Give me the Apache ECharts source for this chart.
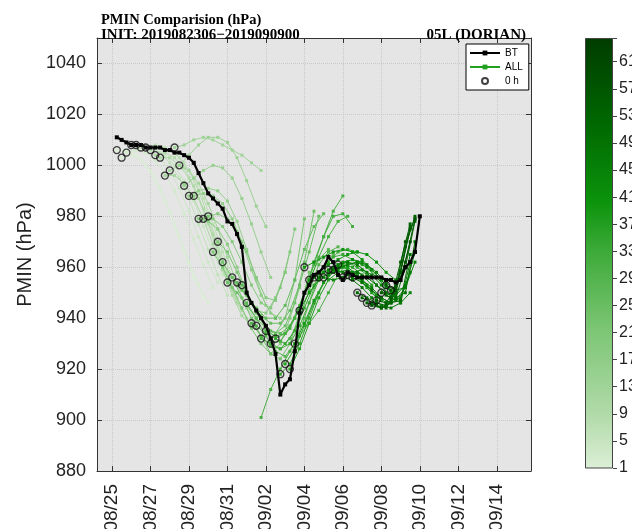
<!DOCTYPE html>
<html><head><meta charset="utf-8">
<script src="https://cdn.jsdelivr.net/npm/echarts@6/dist/echarts.min.js"></script>
<style>html,body{margin:0;padding:0;background:#fff;overflow:hidden}#c{width:632px;height:529px}</style>
</head><body><div id="c"></div>
<script>
// ---------- data ----------
// x axis: days counted from the "08/25" tick
const xTickValues = [0, 2, 4, 6, 8, 10, 12, 14, 16, 18, 20];
const xTickLabels = ['08/25','08/27','08/29','08/31','09/02','09/04','09/06','09/08','09/10','09/12','09/14'];
const yTicks = [880, 900, 920, 940, 960, 980, 1000, 1020, 1040];
const colorbarTicks = [1, 5, 9, 13, 17, 21, 25, 29, 33, 37, 41, 45, 49, 53, 57, 61];

// Best track (6-hourly, first point at day 0.25)
const btStartDay = 0.25;
const btStepDay = 0.25;
const btPmin = [1011,1010,1009,1008,1008,1008,1007,1007,1007,1007,1006,1006,1005,1005,1004,1003,
  1001,997,993,989,987,985,983,978,977,973,968,950,946,943,940,937,
  932,926,910,914,916,927,942,950,953,957,958,960,964,962,957,955,
  958,957,956,956,956,956,956,956,955,955,954,955,960,962,966,980];

// Forecasts (12-hourly values from each initial time)
const fcstStepDay = 0.5;
const fcstIndex = [1,2,3,4,5,6,7,8,9,10,11,12,13,14,15,16,17,18,19,20,21,22,23,24,25,26,27,28,29,
  30,31,32,33,34,35,36,37,38,39,40,41,42,43,44,45,46,47,48,49,50,51,52,53,54,55,56,57,58];
const fcstStartDay = [0.25,0.5,0.75,1.0,1.25,1.5,1.75,2.0,2.25,2.5,2.75,3.0,3.25,3.5,3.75,4.0,4.25,4.5,4.75,
  5.0,5.25,5.5,5.75,6.0,6.25,6.5,6.75,7.0,7.25,7.5,7.75,8.0,8.25,8.5,8.75,9.0,9.25,9.5,9.75,10.0,
  10.25,10.5,10.75,11.0,11.25,11.5,11.75,12.0,12.25,12.5,12.75,13.0,13.25,13.5,13.75,14.0,14.25,14.5];
const fcstPmin = [
  [1006,1006,1004,1000,994,986,976,966,956,948],
  [1003,1004,1002,998,991,982,972,962,953,946],
  [1005,1006,1005,1002,997,990,981,971,961,952],
  [1008,1008,1006,1003,998,991,982,972,962,954],
  [1008,1007,1006,1004,1000,994,986,976,966,957],
  [1007,1007,1005,1001,995,987,977,967,957,949],
  [1007,1008,1007,1005,1001,995,987,977,966,956],
  [1006,1007,1006,1003,998,990,980,969,958,948],
  [1004,1005,1003,999,992,983,973,962,951,943],
  [1003,1003,1000,995,987,977,966,955,946,940],
  [996,996,993,987,979,969,959,949,941,937],
  [998,1000,998,993,985,975,964,953,944,939],
  [1007,1008,1010,1011,1010,1008,1006,1004,1001,998],
  [1000,1004,1008,1011,1011,1009,1003,994,984,976],
  [992,995,998,1000,999,995,987,977,966,956],
  [988,990,991,990,986,978,967,955,945,940],
  [988,989,988,985,979,970,959,949,942,940],
  [979,978,975,969,960,950,943,942,948,958],
  [979,979,976,970,962,953,946,944,952,966],
  [980,981,979,974,966,956,948,947,958,975],
  [966,960,952,944,936,930,926,930,940,952],
  [970,966,958,950,942,936,934,940,955,979],
  [962,956,948,940,933,926,924,930,942,958],
  [954,950,945,940,936,934,937,946,962,982],
  [956,951,946,941,938,938,943,953,966,980],
  [954,949,944,940,940,945,955,967,976,981],
  [953,946,940,935,934,937,945,955,963,967],
  [946,940,933,927,925,930,940,952,960,965],
  [938,933,929,928,932,940,951,961,966,968],
  [937,934,932,934,940,950,962,972,982,988],
  [932,930,931,936,944,954,964,972,978,980],
  [935,933,934,940,950,961,972,980,981,976],
  [930,928,930,937,946,955,962,966,967,966],
  [932,930,935,944,953,960,964,965,963,961],
  [918,922,930,940,950,957,961,962,960,957],
  [922,928,937,946,954,959,961,960,957,953],
  [920,928,938,948,955,958,959,957,952,948],
  [930,938,947,954,958,960,958,954,950,947],
  [943,950,955,958,960,960,957,953,949,946],
  [960,962,964,966,967,966,963,959,955,951],
  [955,958,961,963,965,966,965,962,958,955],
  [956,958,960,962,963,962,959,955,950,947],
  [956,957,959,961,962,960,956,952,949,953],
  [956,955,956,958,959,957,953,948,946,950],
  [959,960,961,962,961,958,954,951,952,962],
  [959,958,957,955,952,948,946,948,958],
  [961,962,961,958,953,949,947,952,966],
  [956,955,952,948,945,944,946,962],
  [957,958,956,953,950,948,950,970],
  [956,954,951,948,946,947,965],
  [950,948,946,945,948,960,978],
  [948,946,944,946,958,976],
  [946,945,944,950,968,980],
  [945,944,947,962,977],
  [947,946,952,970,979],
  [950,948,958,975],
  [953,951,962,979],
  [951,955,970]
];
// forecast without a plotted 0 h circle
const extraIndex = [31];
const extraStartDay = [7.75];
const extraPmin = [[901,912,920,927,933,938,943,950,957,962]];

// ---------- style ----------
const cmapStops = [[0,'#dcefd7'],[0.12,'#b3dbab'],[0.32,'#7dc675'],[0.5,'#3fab3a'],[0.62,'#0c930c'],[0.8,'#006800'],[1,'#003c00']];
const cbMin = 1, cbMax = 64.5;
function hex2rgb(h){return [1,3,5].map(i=>parseInt(h.substr(i,2),16));}
function cmap(v){
  let t=(v-cbMin)/(cbMax-cbMin); t=Math.max(0,Math.min(1,t));
  for(let k=1;k<cmapStops.length;k++){
    if(t<=cmapStops[k][0]){
      const a=cmapStops[k-1], b=cmapStops[k];
      const f=(t-a[0])/(b[0]-a[0]);
      const ca=hex2rgb(a[1]), cb=hex2rgb(b[1]);
      const c=ca.map((x,i)=>Math.round(x+(cb[i]-x)*f));
      return 'rgb('+c.join(',')+')';
    }
  }
  return cmapStops[cmapStops.length-1][1];
}
const FONT = 'Liberation Sans';
const AXC = '#333';

const series = [];
function addFcst(idx, start, vals){
  const col = cmap(idx);
  series.push({
    type:'line', xAxisIndex:0, yAxisIndex:0, silent:true, animation:false,
    data: vals.map((p,k)=>[start + fcstStepDay*k, p]),
    symbol:'rect', symbolSize:3, showSymbol:true,
    lineStyle:{width:1, color:col}, itemStyle:{color:col}, z:2 + idx/100
  });
}
fcstPmin.forEach((v,i)=>addFcst(fcstIndex[i], fcstStartDay[i], v));
extraPmin.forEach((v,i)=>addFcst(extraIndex[i], extraStartDay[i], v));

series.push({
  name:'ALL', type:'line', xAxisIndex:0, yAxisIndex:0, data:[],
  symbol:'rect', symbolSize:3, lineStyle:{width:1,color:'#22a022'}, itemStyle:{color:'#22a022'}
});
series.push({
  name:'BT', type:'line', xAxisIndex:0, yAxisIndex:0, animation:false, silent:true,
  data: btPmin.map((p,k)=>[btStartDay + btStepDay*k, p]),
  symbol:'rect', symbolSize:4, lineStyle:{width:2.2, color:'#000'}, itemStyle:{color:'#000'}, z:5
});
series.push({
  name:'0 h', type:'scatter', xAxisIndex:0, yAxisIndex:0, animation:false, silent:true,
  data: fcstPmin.map((v,i)=>[fcstStartDay[i], v[0]]),
  symbol:'circle', symbolSize:7,
  itemStyle:{color:'rgba(0,0,0,0)', borderColor:'#111', borderWidth:1.3}, z:6
});
// colour bar
series.push({
  type:'bar', xAxisIndex:2, yAxisIndex:2, silent:true, animation:false,
  data:[cbMax], barWidth:'100%',
  itemStyle:{
    color:{type:'linear', x:0, y:1, x2:0, y2:0,
      colorStops: cmapStops.map(s=>({offset:s[0], color:s[1]}))},
    borderColor:'#444', borderWidth:1
  }
});

const option = {
  backgroundColor:'#fff',
  animation:false,
  title:[
    {text:'PMIN Comparision (hPa)', left:96, top:8, textStyle:{fontFamily:'Liberation Serif', fontWeight:'bold', fontSize:14.5, color:'#000'}},
    {text:'INIT: 2019082306\u22122019090900', left:96, top:23, textStyle:{fontFamily:'Liberation Serif', fontWeight:'bold', fontSize:15, color:'#000'}},
    {text:'05L (DORIAN)', right:101, top:23, textStyle:{fontFamily:'Liberation Serif', fontWeight:'bold', fontSize:15, color:'#000'}}
  ],
  legend:{
    data:['BT','ALL','0 h'], orient:'vertical', left:466, top:44,
    itemWidth:30, itemHeight:6, itemGap:4, padding:[4,6,4,3],
    backgroundColor:'#fff', borderColor:'#000', borderWidth:1,
    textStyle:{fontFamily:FONT, fontSize:10, color:'#000'}, selectedMode:false
  },
  grid:[
    {left:97, top:38, width:434, height:433, show:true, backgroundColor:'#e5e5e5', borderWidth:0, outerBoundsMode:'none', containLabel:false},
    {left:585, top:38, width:28, height:430, outerBoundsMode:'none', containLabel:false}
  ],
  xAxis:[
    {type:'value', gridIndex:0, min:-0.78, max:21.78, position:'bottom',
     axisLine:{show:true, onZero:false, lineStyle:{color:AXC, width:1}},
     axisTick:{show:true, inside:true, length:5, customValues:xTickValues, lineStyle:{color:AXC}},
     axisLabel:{customValues:xTickValues, rotate:90, margin:13, fontFamily:FONT, fontSize:19, color:'#222',
       formatter:v=>{const i=xTickValues.indexOf(v); return i>=0?xTickLabels[i]:'';}},
     splitLine:{show:true, customValues:xTickValues, lineStyle:{type:'dotted', color:'#c8c8c8', width:1}}},
    {type:'value', gridIndex:0, min:-0.78, max:21.78, position:'top',
     axisLine:{show:true, onZero:false, lineStyle:{color:AXC, width:1}},
     axisTick:{show:true, inside:true, length:5, customValues:xTickValues, lineStyle:{color:AXC}},
     axisLabel:{show:false}, splitLine:{show:false}},
    {type:'category', gridIndex:1, data:['c'], show:false}
  ],
  yAxis:[
    {type:'value', gridIndex:0, min:880, max:1050, interval:20, position:'left',
     name:'PMIN (hPa)', nameLocation:'middle', nameGap:50,
     nameTextStyle:{fontFamily:FONT, fontSize:20, color:'#222'},
     axisLine:{show:true, onZero:false, lineStyle:{color:AXC, width:1}},
     axisTick:{show:true, inside:true, length:5, lineStyle:{color:AXC}},
     axisLabel:{margin:11, fontFamily:FONT, fontSize:18, color:'#222',
       formatter:v=>yTicks.indexOf(v)>=0?String(v):''},
     splitLine:{show:true, lineStyle:{type:'dotted', color:'#c8c8c8', width:1}}},
    {type:'value', gridIndex:0, min:880, max:1050, interval:20, position:'right',
     axisLine:{show:true, onZero:false, lineStyle:{color:AXC, width:1}},
     axisTick:{show:true, inside:true, length:5, lineStyle:{color:AXC}},
     axisLabel:{show:false}, splitLine:{show:false}},
    {type:'value', gridIndex:1, min:cbMin, max:cbMax, interval:4, position:'right',
     axisLine:{show:false},
     axisTick:{show:true, inside:false, length:4, lineStyle:{color:'#444'}},
     axisLabel:{margin:6, fontFamily:FONT, fontSize:16, color:'#222',
       formatter:v=>colorbarTicks.indexOf(v)>=0?String(v):''},
     splitLine:{show:false}}
  ],
  series: series
};
const chart = echarts.init(document.getElementById('c'), null, {renderer:'canvas'});
chart.setOption(option);
</script>
</body></html>
